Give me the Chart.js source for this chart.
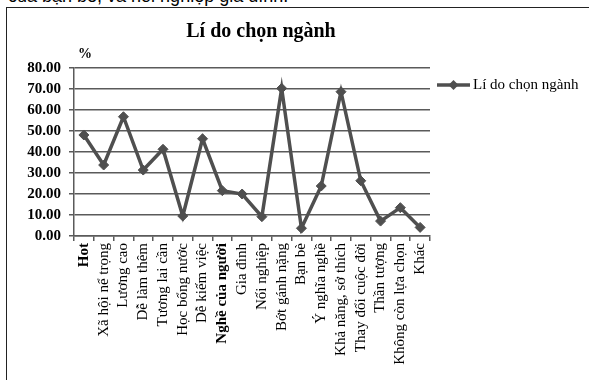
<!DOCTYPE html>
<html>
<head>
<meta charset="utf-8">
<script src="https://cdn.jsdelivr.net/npm/chart.js@4"></script>
<style>
  html, body { margin: 0; padding: 0; background: #fff; }
  body { width: 589px; height: 380px; position: relative; overflow: hidden; }
  #topText { position: absolute; left: 8px; top: -14px; font: 18px "Liberation Sans", Arial, sans-serif; color: #000; white-space: nowrap; }
  #frame { position: absolute; left: 6px; top: 7px; width: 620px; height: 420px; border: 1px solid #222; box-sizing: border-box; }
  #title { position: absolute; left: 0; width: 522px; top: 19px; text-align: center; font: bold 20px "Liberation Serif", serif; }
  #unit { position: absolute; left: 78px; top: 46px; font: bold 14px "Liberation Serif", serif; }
  #legend { position: absolute; left: 437px; top: 76px; font: 15px "Liberation Serif", serif; display: flex; align-items: center; white-space: nowrap; }
  #legend svg { margin-right: 3px; }
  canvas { position: absolute; left: 0; top: 0; }
</style>
</head>
<body>
<div id="topText">của bạn bè, và nối nghiệp gia đình.</div>
<div id="frame"></div>
<canvas id="chart" width="589" height="380"></canvas>
<div id="title">Lí do chọn ngành</div>
<div id="unit">%</div>
<div id="legend">
  <svg width="33" height="12"><line x1="0" y1="6" x2="33" y2="6" stroke="#4f4f4f" stroke-width="3.5"/><polygon points="16.5,1 21.5,6 16.5,11 11.5,6" fill="#4f4f4f"/></svg>
  <span>Lí do chọn ngành</span>
</div>
<script>
// --- Data ---
const categories = [
    'Hot', 'Xã hội nể trọng', 'Lương cao', 'Dễ làm thêm', 'Tương lai cần',
    'Học bổng nước', 'Dễ kiếm việc', 'Nghề của người', 'Gia đình', 'Nối nghiệp',
    'Bớt gánh nặng', 'Bạn bè', 'Ý nghĩa nghề', 'Khả năng, sở thích',
    'Thay đổi cuộc đời', 'Thần tượng', 'Không còn lựa chọn', 'Khác'
];
const values = [48.1, 33.8, 56.8, 31.4, 41.3, 9.5, 46.3, 21.6, 20.0, 9.2, 70.3, 3.7, 23.8, 68.7, 26.3, 7.1, 13.5, 4.1];
const yMin = 0;
const yMax = 80;
const yStep = 10;
const boldLabels = ['Hot', 'Nghề của người'];

const LINE_COLOR = '#4f4f4f';
const GRID_COLOR = '#5a5a5a';

new Chart(document.getElementById('chart'), {
    type: 'line',
    data: {
        labels: categories,
        datasets: [{
            label: 'Lí do chọn ngành',
            data: values,
            borderColor: LINE_COLOR,
            backgroundColor: LINE_COLOR,
            borderWidth: 3.5,
            tension: 0,
            pointStyle: 'rectRot',
            pointRadius: 5,
            pointBorderWidth: 1,
            pointBackgroundColor: LINE_COLOR,
            pointBorderColor: LINE_COLOR
        }]
    },
    options: {
        responsive: false,
        animation: false,
        devicePixelRatio: 1,
        layout: { padding: { top: 68, right: 159, left: 0, bottom: 0 } },
        plugins: {
            legend: { display: false },
            title: { display: false },
            tooltip: { enabled: false }
        },
        scales: {
            x: {
                offset: true,
                afterFit: (scale) => { scale.height = 144; },
                grid: {
                    offset: true,
                    drawOnChartArea: false,
                    drawTicks: true,
                    tickLength: 5,
                    color: GRID_COLOR,
                    lineWidth: 1.5
                },
                border: { color: GRID_COLOR, width: 1.5 },
                ticks: {
                    autoSkip: false,
                    maxRotation: 90,
                    minRotation: 90,
                    padding: 2,
                    color: '#000',
                    font: (ctx) => ({
                        family: '"Liberation Serif", serif',
                        size: 15,
                        weight: boldLabels.includes(categories[ctx.index]) ? 'bold' : 'normal'
                    })
                }
            },
            y: {
                min: yMin,
                max: yMax,
                afterFit: (scale) => { scale.width = 74; },
                grid: {
                    color: GRID_COLOR,
                    lineWidth: 1.5,
                    tickLength: 5
                },
                border: { color: GRID_COLOR, width: 1.5 },
                ticks: {
                    stepSize: yStep,
                    padding: 8,
                    color: '#000',
                    font: { family: '"Liberation Serif", serif', size: 15, weight: 'bold' },
                    callback: (v) => v.toFixed(2)
                }
            }
        }
    }
});
</script>
</body>
</html>
